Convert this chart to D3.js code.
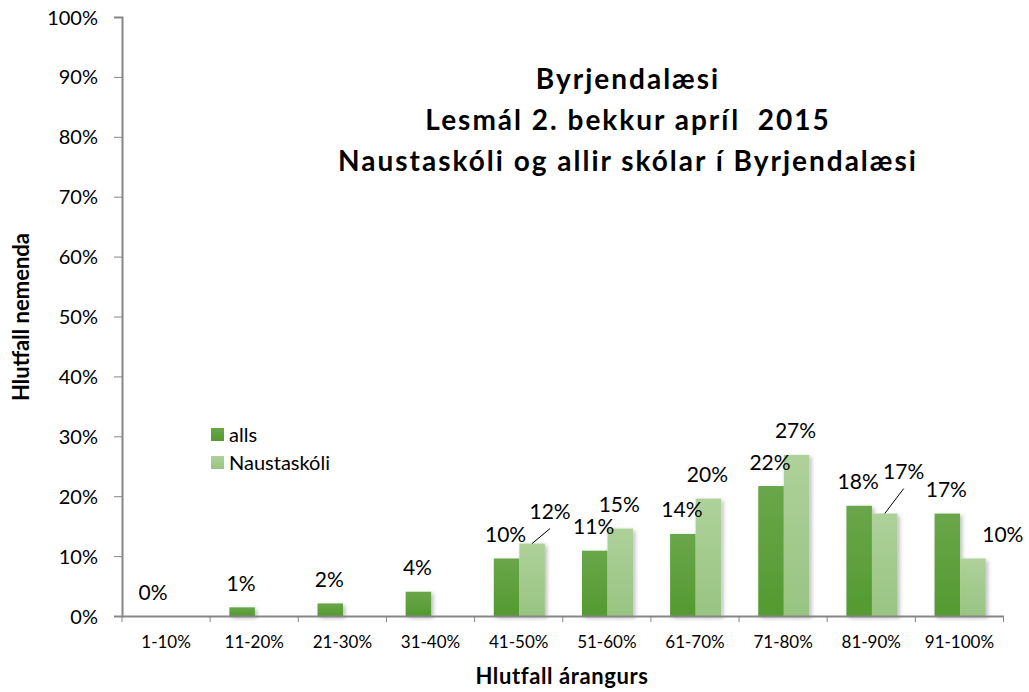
<!DOCTYPE html>
<html>
<head>
<meta charset="utf-8">
<script src="https://cdn.jsdelivr.net/npm/d3@7"></script>
<style>
  html, body { margin: 0; padding: 0; background: #fff; }
  svg { display: block; font-family: Lato, "Open Sans", sans-serif; }
</style>
</head>
<body>
<svg id="chart" width="1029" height="692"></svg>
<script>
// ---- data ----
const categories = ["1-10%", "11-20%", "21-30%", "31-40%", "41-50%", "51-60%", "61-70%", "71-80%", "81-90%", "91-100%"];
const seriesNames = ["alls", "Naustaskóli"];
const allsValues = [0, 1.45, 2.1, 4.05, 9.6, 10.9, 13.7, 21.7, 18.4, 17.1];
const naustValues = [null, null, null, null, 12.1, 14.6, 19.6, 26.9, 17.1, 9.6];
const yTicks = [0, 10, 20, 30, 40, 50, 60, 70, 80, 90, 100];
const titleLines = ["Byrjendalæsi", "Lesmál 2. bekkur apríl  2015", "Naustaskóli og allir skólar í Byrjendalæsi"];
const xTitle = "Hlutfall árangurs";
const yTitle = "Hlutfall nemenda";
// manually moved data labels (series index, category index, nudge, leader line)
const labelNudges = [
  { s: 1, i: 4, dx: 19, dy: -8, leader: true },
  { s: 1, i: 8, dx: 20, dy: -18, leader: true },
  { s: 1, i: 9, dx: 31, dy: 0, leader: false }
];

const svg = d3.select("#chart");
const W = 1029, H = 692;
const margin = { left: 122, right: W - 1003.5, top: 17, bottom: H - 616 };

const x = d3.scaleBand().domain(categories).range([margin.left, W - margin.right]).padding(0);
const x1 = d3.scaleBand().domain(seriesNames)
  .range([x.bandwidth() * 0.218, x.bandwidth() * 0.797]).padding(0);
const y = d3.scaleLinear().domain([0, 100]).range([H - margin.bottom, margin.top]);

const defs = svg.append("defs");
function grad(id, top, bottom) {
  const g = defs.append("linearGradient").attr("id", id).attr("x1", 0).attr("y1", 0).attr("x2", 0).attr("y2", 1);
  g.append("stop").attr("offset", "0%").attr("stop-color", top);
  g.append("stop").attr("offset", "100%").attr("stop-color", bottom);
}
grad("gAlls", "#6aa64a", "#539a30");
grad("gNaust", "#aed19a", "#98c482");
const f = defs.append("filter").attr("id", "shadow").attr("x", "-20%").attr("y", "-20%").attr("width", "150%").attr("height", "150%");
f.append("feDropShadow").attr("dx", 2).attr("dy", 2).attr("stdDeviation", 2).attr("flood-color", "#000").attr("flood-opacity", 0.28);

const fills = ["url(#gAlls)", "url(#gNaust)"];
const seriesValues = [allsValues, naustValues];

// ---- bars ----
const barData = [];
seriesValues.forEach((vals, s) => vals.forEach((v, i) => {
  if (v !== null) barData.push({ s, i, v, cat: categories[i], name: seriesNames[s] });
}));

svg.append("g").attr("filter", "url(#shadow)")
  .selectAll("rect").data(barData.filter(d => d.v > 0)).join("rect")
  .attr("x", d => x(d.cat) + x1(d.name))
  .attr("width", x1.bandwidth())
  .attr("y", d => y(d.v))
  .attr("height", d => y(0) - y(d.v))
  .attr("fill", d => fills[d.s]);

// ---- axes ----
const yAxis = svg.append("g").attr("transform", `translate(${margin.left},0)`)
  .call(d3.axisLeft(y).tickValues(yTicks).tickSize(8).tickPadding(16).tickFormat(d => d + "%"));
yAxis.select(".domain").attr("stroke", "#868686").attr("stroke-width", 2);
yAxis.selectAll(".tick line").attr("stroke", "#868686").attr("stroke-width", 1);
yAxis.selectAll(".tick text").attr("font-size", 20).attr("fill", "#000").attr("font-family", "Lato").attr("dy", "0.35em");

const xAxis = svg.append("g").attr("transform", `translate(0,${y(0)})`)
  .call(d3.axisBottom(x).tickSize(0).tickPadding(20));
xAxis.select(".domain").attr("stroke", "#868686").attr("stroke-width", 2);
xAxis.selectAll(".tick text").attr("font-size", 17).attr("fill", "#000").attr("font-family", "Lato");
const boundaries = categories.map(c => x(c)).concat([x.range()[1]]);
svg.append("g").selectAll("line").data(boundaries).join("line")
  .attr("x1", d => d).attr("x2", d => d)
  .attr("y1", y(0)).attr("y2", y(0) + 6)
  .attr("stroke", "#868686").attr("stroke-width", 1);

// ---- data labels ----
const lab = svg.append("g").attr("font-size", 21).attr("fill", "#000").attr("text-anchor", "middle");
barData.forEach(d => {
  const bx = x(d.cat) + x1(d.name) + x1.bandwidth() / 2;
  const by = y(d.v);
  const n = labelNudges.find(o => o.s === d.s && o.i === d.i);
  const lx = bx + (n ? n.dx : 0) - 1;
  const ly = by - 24 + (n ? n.dy : 0);
  lab.append("text").attr("x", lx).attr("y", ly).attr("dy", "0.36em")
    .text(Math.round(d.v) + "%");
  if (n && n.leader) {
    svg.append("line").attr("x1", bx).attr("y1", by).attr("x2", lx).attr("y2", ly + 17)
      .attr("stroke", "#000").attr("stroke-width", 1);
  }
});

// ---- title ----
svg.append("g").selectAll("text").data(titleLines).join("text")
  .attr("x", 628).attr("y", (d, k) => 89 + k * 41)
  .attr("text-anchor", "middle").attr("font-weight", "bold").attr("font-size", 28)
  .attr("letter-spacing", 2).style("white-space", "pre")
  .text(d => d);

// ---- axis titles ----
svg.append("text").attr("x", 562).attr("y", 684).attr("text-anchor", "middle")
  .attr("font-weight", "bold").attr("font-size", 22).attr("letter-spacing", 0.6).text(xTitle);
svg.append("text").attr("transform", "translate(29,317) rotate(-90)").attr("text-anchor", "middle")
  .attr("font-weight", "bold").attr("font-size", 22).text(yTitle);

// ---- legend ----
const leg = svg.append("g").selectAll("g").data(seriesNames).join("g")
  .attr("transform", (d, k) => `translate(211,${428 + k * 28})`);
leg.append("rect").attr("width", 13).attr("height", 13).attr("fill", (d, k) => fills[k]);
leg.append("text").attr("x", 18).attr("y", 6.5).attr("dy", "0.36em").attr("font-size", 20).text(d => d);
</script>
</body>
</html>
